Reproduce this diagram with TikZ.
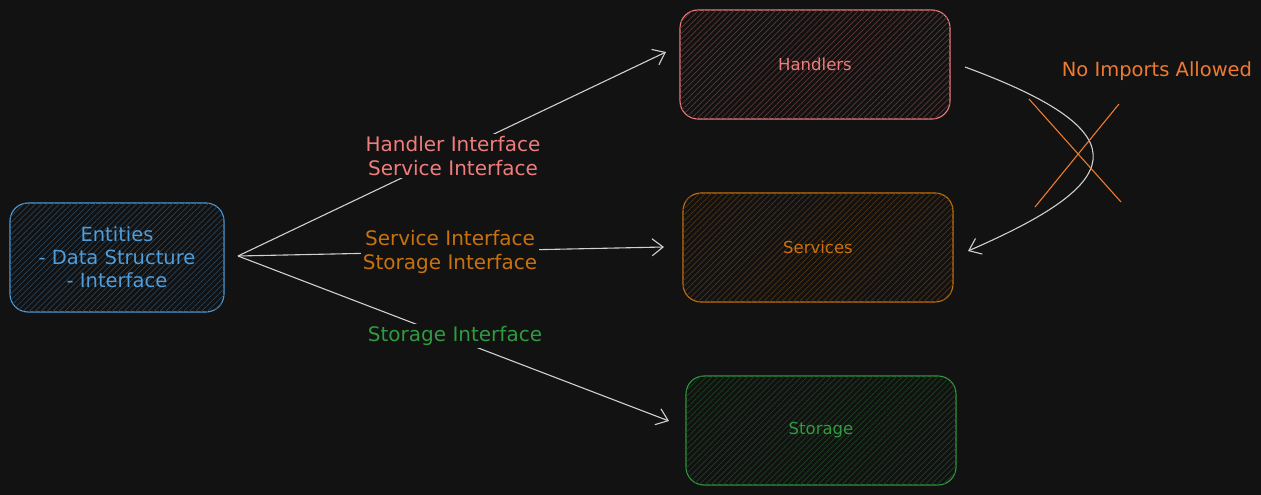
\documentclass[tikz,border=0pt]{standalone}
\usepackage{fontspec}
\setmainfont{DejaVu Sans}
\usetikzlibrary{arrows.meta,patterns.meta}
\definecolor{bg}{HTML}{121212}
\definecolor{cblue}{HTML}{4E9DDC}
\definecolor{cred}{HTML}{F07C7C}
\definecolor{corange}{HTML}{C8720E}
\definecolor{cgreen}{HTML}{2F9A3F}
\definecolor{cnote}{HTML}{EE7A32}
\definecolor{carrow}{HTML}{D0D0D0}
\tikzset{
  box/.style={draw=#1, text=#1, rounded corners=18pt, line width=1.1pt,
    minimum width=270pt, minimum height=109pt, inner sep=0pt, align=center,
    font=\fontsize{16.5}{23}\selectfont,
    postaction={pattern={Lines[angle=45,distance=4.2pt,line width=0.7pt]}, pattern color=#1!35!bg}},
  lbl/.style={text=#1, fill=bg, align=center, inner sep=2pt, font=\fontsize{20}{24}\selectfont},
  arr/.style={draw=carrow, line width=1.1pt, -{Straight Barb[length=11pt,width=17pt,line width=1.1pt]}}
}
\begin{document}
\begin{tikzpicture}[x=1pt,y=-1pt]
\fill[bg] (0,0) rectangle (1261,495);
\useasboundingbox (0,0) rectangle (1261,495);

\node[box=cblue, minimum width=214pt, font=\fontsize{19.5}{23}\selectfont] (ent) at (117,257.5) {Entities\\- Data Structure\\- Interface};
\node[box=cred] (hand) at (815,64.5) {Handlers};
\node[box=corange] (serv) at (818,247.5) {Services};
\node[box=cgreen] (stor) at (821,430.5) {Storage};

\coordinate (src) at (238,256);
\coordinate (t1) at (666,52);
\coordinate (t2) at (664,247);
\coordinate (t3) at (669,421);

\draw[arr] (src) -- (t1);
\draw[arr] (src) -- (t2);
\draw[arr] (src) -- (t3);

\node[lbl=cred] (l1) at (453,156) {Handler Interface\\Service Interface};
\node[lbl=corange] (l2) at (450,252) {Service Interface\\Storage Interface};
\node[lbl=cgreen] (l3) at (455,336) {Storage Interface};

\coordinate (c1) at (965,67);
\coordinate (c2) at (968,251);
\draw[arr] (c1) .. controls (1150,135) and (1120,185) .. (c2);

\coordinate (x1a) at (1029,99);
\coordinate (x1b) at (1121,202);
\coordinate (x2a) at (1035,207);
\coordinate (x2b) at (1119,104);
\draw[cnote, line width=1.1pt] (x1a) -- (x1b);
\draw[cnote, line width=1.1pt] (x2a) -- (x2b);

\node[text=cnote, font=\fontsize{19.5}{22}\selectfont] (note) at (1157,71) {No Imports Allowed};
\end{tikzpicture}
\end{document}
